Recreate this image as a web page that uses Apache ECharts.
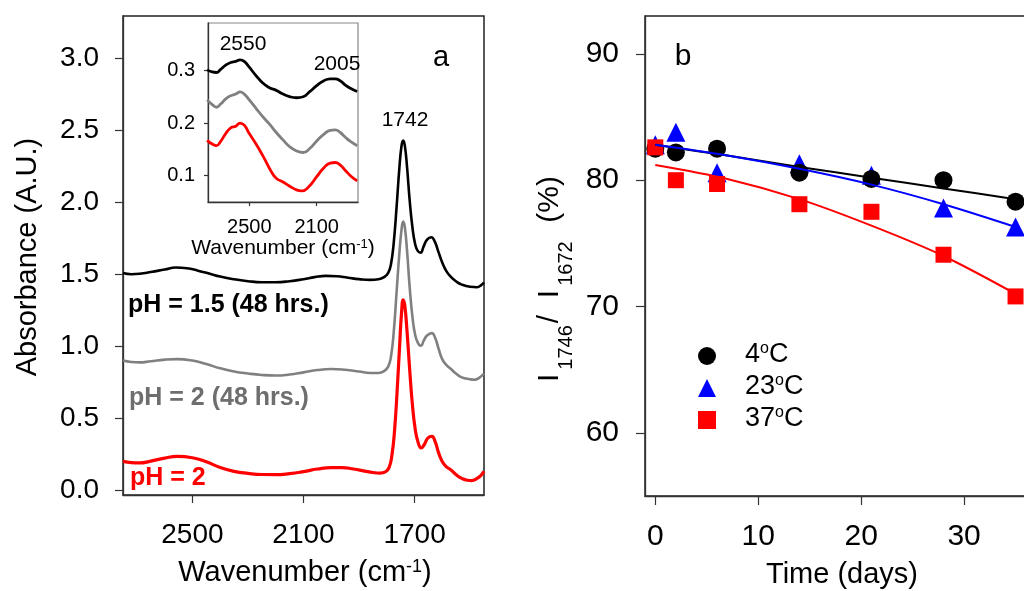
<!DOCTYPE html>
<html>
<head>
<meta charset="utf-8">
<script src="https://cdn.jsdelivr.net/npm/echarts@6/dist/echarts.min.js"></script>
<style>
html,body{margin:0;padding:0;background:#fff;}
#chart{width:1024px;height:591px;}
</style>
</head>
<body>
<div id="chart"></div>
<script>
// ---------- Panel a: main spectra [wavenumber, absorbance] ----------
var specPH15 = [[2750,1.508],[2720,1.500],[2690,1.503],[2650,1.515],[2600,1.533],[2560,1.547],[2520,1.542],[2480,1.525],[2440,1.505],[2400,1.484],[2350,1.465],[2300,1.452],[2250,1.445],[2200,1.445],[2150,1.452],[2100,1.466],[2060,1.480],[2020,1.489],[1980,1.486],[1940,1.476],[1900,1.466],[1860,1.461],[1830,1.465],[1810,1.480],[1795,1.510],[1785,1.570],[1775,1.720],[1765,1.960],[1755,2.230],[1747,2.390],[1741,2.426],[1735,2.390],[1727,2.240],[1718,2.020],[1708,1.830],[1698,1.710],[1688,1.660],[1678,1.650],[1668,1.690],[1655,1.740],[1640,1.757],[1628,1.730],[1615,1.660],[1600,1.580],[1585,1.520],[1570,1.484],[1550,1.450],[1530,1.428],[1500,1.413],[1475,1.410],[1460,1.425],[1450,1.443]];
var specPH2_48 = [[2750,0.902],[2720,0.892],[2690,0.889],[2650,0.897],[2600,0.908],[2555,0.912],[2500,0.902],[2450,0.878],[2400,0.848],[2350,0.826],[2300,0.812],[2250,0.802],[2200,0.798],[2150,0.805],[2100,0.820],[2050,0.836],[2000,0.843],[1950,0.838],[1900,0.826],[1860,0.816],[1830,0.816],[1810,0.828],[1795,0.860],[1785,0.930],[1775,1.100],[1765,1.370],[1755,1.640],[1747,1.810],[1741,1.865],[1735,1.825],[1727,1.660],[1718,1.420],[1708,1.210],[1698,1.080],[1688,1.025],[1677,1.004],[1667,1.040],[1655,1.075],[1638,1.092],[1626,1.060],[1613,0.980],[1600,0.910],[1585,0.870],[1570,0.845],[1550,0.810],[1530,0.785],[1500,0.772],[1485,0.769],[1470,0.778],[1450,0.812]];
var specPH2 = [[2750,0.203],[2720,0.194],[2690,0.192],[2650,0.205],[2600,0.226],[2555,0.238],[2500,0.228],[2450,0.200],[2400,0.160],[2350,0.134],[2300,0.120],[2250,0.112],[2200,0.111],[2150,0.118],[2100,0.132],[2050,0.150],[2000,0.160],[1960,0.160],[1920,0.150],[1880,0.136],[1850,0.126],[1825,0.122],[1805,0.130],[1792,0.160],[1782,0.240],[1772,0.420],[1762,0.720],[1754,1.000],[1747,1.230],[1741,1.323],[1735,1.280],[1727,1.100],[1718,0.850],[1708,0.600],[1698,0.430],[1688,0.340],[1676,0.296],[1665,0.320],[1652,0.365],[1638,0.376],[1626,0.340],[1613,0.260],[1600,0.200],[1585,0.165],[1570,0.145],[1550,0.110],[1530,0.085],[1510,0.072],[1495,0.070],[1475,0.085],[1460,0.108],[1450,0.134]];

// ---------- Panel a inset ----------
var insetPH15 = [[2750,0.301],[2720,0.297],[2695,0.296],[2670,0.302],[2640,0.310],[2610,0.315],[2580,0.317],[2555,0.320],[2530,0.317],[2500,0.306],[2460,0.290],[2420,0.276],[2380,0.267],[2340,0.262],[2300,0.255],[2260,0.250],[2220,0.248],[2180,0.250],[2140,0.260],[2100,0.271],[2060,0.280],[2020,0.284],[1990,0.284],[1960,0.280],[1930,0.272],[1900,0.266],[1860,0.260]];
var insetPH2_48 = [[2750,0.244],[2720,0.235],[2695,0.230],[2670,0.236],[2640,0.246],[2610,0.252],[2580,0.255],[2555,0.259],[2530,0.255],[2500,0.244],[2460,0.228],[2420,0.212],[2380,0.198],[2340,0.182],[2300,0.168],[2260,0.155],[2220,0.147],[2180,0.144],[2140,0.152],[2100,0.166],[2060,0.178],[2020,0.186],[1990,0.187],[1960,0.182],[1930,0.173],[1900,0.165],[1860,0.157]];
var insetPH2 = [[2750,0.167],[2720,0.160],[2695,0.157],[2670,0.165],[2640,0.180],[2610,0.191],[2580,0.194],[2555,0.200],[2530,0.196],[2500,0.180],[2460,0.160],[2420,0.138],[2400,0.126],[2370,0.108],[2340,0.095],[2300,0.088],[2260,0.080],[2220,0.073],[2190,0.071],[2150,0.078],[2100,0.098],[2060,0.114],[2020,0.124],[1990,0.125],[1960,0.120],[1930,0.110],[1900,0.100],[1860,0.090]];

var mainXTicks = [2500, 2100, 1700];
var mainYTicks = [0, 0.5, 1.0, 1.5, 2.0, 2.5, 3.0];
var insetXTicks = [2500, 2100];
var insetYTicks = [0.1, 0.2, 0.3];

// ---------- Panel b ----------
var days = [0, 2, 6, 14, 21, 28, 35];
var ratio4C = [82.5, 82.2, 82.5, 80.6, 80.1, 80.0, 78.3];
var ratio23C = [82.8, 83.8, 80.6, 81.3, 80.4, 77.8, 76.3];
var ratio37C = [82.6, 80.0, 79.7, 78.1, 77.5, 74.1, 70.8];
var fitDays = [0, 7, 14, 21, 28, 35];
var fit4C = [82.8, 81.95, 81.05, 80.2, 79.35, 78.5];
var fit23C = [82.8, 81.95, 80.9, 79.65, 78.1, 76.3];
var fit37C = [81.2, 80.1, 78.5, 76.4, 74.0, 71.0];
var timeTicks = [0, 10, 20, 30];
var ratioTicks = [60, 70, 80, 90];
var legendNames = ['4°C', '23°C', '37°C'];

var FONT = '"Liberation Sans", Arial, Helvetica, sans-serif';

function pairs(xs, ys) { return xs.map(function (x, i) { return [x, ys[i]]; }); }

function axisCommon(ticks, len, fs, margin, fmt) {
  return {
    axisLine: { show: true, onZero: false, lineStyle: { color: '#333', width: 1.3 } },
    axisTick: { show: true, length: len, customValues: ticks, lineStyle: { color: '#333', width: 1.2 } },
    axisLabel: { customValues: ticks, fontSize: fs, margin: margin, color: '#000', fontFamily: FONT, formatter: fmt, hideOverlap: false },
    splitLine: { show: false }
  };
}
function mk(base, extra) { for (var k in extra) base[k] = extra[k]; return base; }

var chart = echarts.init(document.getElementById('chart'), null, { renderer: 'canvas' });

var supRich = {
  m: { fontSize: 27, lineHeight: 30, verticalAlign: 'top', fontFamily: FONT, color: '#000' },
  s: { fontSize: 16, lineHeight: 16, verticalAlign: 'top', fontFamily: FONT, color: '#000' }
};

var option = {
  animation: false,
  backgroundColor: '#fff',
  textStyle: { fontFamily: FONT },
  grid: [
    { left: 123, top: 16, width: 361, height: 479, show: true, borderColor: '#222', borderWidth: 1.5, backgroundColor: 'transparent', outerBoundsMode: 'none', containLabel: false },
    { left: 208, top: 23, width: 150, height: 179, show: true, borderColor: '#888', borderWidth: 1.2, backgroundColor: '#fff', outerBoundsMode: 'none', containLabel: false },
    { left: 645, top: 16, width: 422, height: 480, show: true, borderColor: '#222', borderWidth: 1.5, backgroundColor: 'transparent', outerBoundsMode: 'none', containLabel: false }
  ],
  xAxis: [
    mk(axisCommon(mainXTicks, 8, 28, 26, function (v) { return String(v); }), { gridIndex: 0, type: 'value', min: 1450, max: 2750, inverse: true }),
    mk(axisCommon(insetXTicks, 4, 20, 15, function (v) { return String(v); }), { gridIndex: 1, type: 'value', min: 1855, max: 2745, inverse: true }),
    mk(axisCommon(timeTicks, 9, 30, 26, function (v) { return String(v); }), { gridIndex: 2, type: 'value', min: -1, max: 40 })
  ],
  yAxis: [
    mk(axisCommon(mainYTicks, 8, 28, 24, function (v) { return v.toFixed(1); }), { gridIndex: 0, type: 'value', min: -0.03, max: 3.29 }),
    mk(axisCommon(insetYTicks, 4, 20, 13, function (v) { return v.toFixed(1); }), { gridIndex: 1, type: 'value', min: 0.05, max: 0.39 }),
    mk(axisCommon(ratioTicks, 9, 30, 26, function (v) { return String(v); }), { gridIndex: 2, type: 'value', min: 55, max: 93 })
  ],
  legend: {
    left: 693, top: 336, orient: 'vertical', itemWidth: 18, itemHeight: 18, itemGap: 5,
    data: [
      { name: legendNames[0], icon: 'circle' },
      { name: legendNames[1], icon: 'triangle' },
      { name: legendNames[2], icon: 'rect' }
    ],
    formatter: function (n) { return '{m|' + n.replace('°C', '') + '}{s|o}{m|C}'; },
    textStyle: { fontSize: 27, padding: [0, 0, 0, 24], rich: supRich },
    selectedMode: false
  },
  series: [
    { type: 'line', xAxisIndex: 0, yAxisIndex: 0, data: specPH15, showSymbol: false, smooth: 0.5, lineStyle: { color: '#000', width: 2.6 }, clip: true },
    { type: 'line', xAxisIndex: 0, yAxisIndex: 0, data: specPH2_48, showSymbol: false, smooth: 0.5, lineStyle: { color: '#808080', width: 2.6 }, clip: true },
    { type: 'line', xAxisIndex: 0, yAxisIndex: 0, data: specPH2, showSymbol: false, smooth: 0.5, lineStyle: { color: '#ff0000', width: 3.2 }, clip: true },
    { type: 'line', xAxisIndex: 1, yAxisIndex: 1, data: insetPH15, showSymbol: false, smooth: 0.5, lineStyle: { color: '#000', width: 2.8 }, clip: true, z: 5 },
    { type: 'line', xAxisIndex: 1, yAxisIndex: 1, data: insetPH2_48, showSymbol: false, smooth: 0.5, lineStyle: { color: '#808080', width: 2.8 }, clip: true, z: 5 },
    { type: 'line', xAxisIndex: 1, yAxisIndex: 1, data: insetPH2, showSymbol: false, smooth: 0.5, lineStyle: { color: '#ff0000', width: 2.8 }, clip: true, z: 5 },
    { name: legendNames[1], type: 'scatter', xAxisIndex: 2, yAxisIndex: 2, data: pairs(days, ratio23C), symbol: 'triangle', symbolSize: 19, itemStyle: { color: '#0000ff', opacity: 1 }, z: 3, clip: false },
    { name: legendNames[0], type: 'scatter', xAxisIndex: 2, yAxisIndex: 2, data: pairs(days, ratio4C), symbol: 'circle', symbolSize: 18, itemStyle: { color: '#000', opacity: 1 }, z: 3, clip: false },
    { name: legendNames[2], type: 'scatter', xAxisIndex: 2, yAxisIndex: 2, data: pairs(days, ratio37C), symbol: 'rect', symbolSize: 16, itemStyle: { color: '#ff0000', opacity: 1 }, z: 3, clip: false },
    { type: 'line', xAxisIndex: 2, yAxisIndex: 2, data: pairs(fitDays, fit4C), showSymbol: false, smooth: 0.3, lineStyle: { color: '#000', width: 2 }, z: 4 },
    { type: 'line', xAxisIndex: 2, yAxisIndex: 2, data: pairs(fitDays, fit23C), showSymbol: false, smooth: 0.3, lineStyle: { color: '#0000ff', width: 2 }, z: 4 },
    { type: 'line', xAxisIndex: 2, yAxisIndex: 2, data: pairs(fitDays, fit37C), showSymbol: false, smooth: 0.3, lineStyle: { color: '#ff0000', width: 2 }, z: 4 }
  ],
  graphic: [
    { type: 'text', x: 28, y: 257, rotation: Math.PI / 2, style: { text: 'Absorbance (A.U.)', font: '29px ' + FONT, fill: '#000', align: 'center', verticalAlign: 'middle' } },
    { type: 'text', x: 305, y: 574, style: { text: '{m|Wavenumber (cm}{s|-1}{m|)}', align: 'center', verticalAlign: 'middle',
        rich: { m: { fontSize: 29, lineHeight: 32, verticalAlign: 'top', fontFamily: FONT, fill: '#000' }, s: { fontSize: 18, lineHeight: 18, verticalAlign: 'top', fontFamily: FONT, fill: '#000' } } } },
    { type: 'text', x: 283, y: 249, z: 10, style: { text: '{m|Wavenumber (cm}{s|-1}{m|)}', align: 'center', verticalAlign: 'middle',
        rich: { m: { fontSize: 21, lineHeight: 23, verticalAlign: 'top', fontFamily: FONT, fill: '#000' }, s: { fontSize: 13, lineHeight: 13, verticalAlign: 'top', fontFamily: FONT, fill: '#000' } } } },
    { type: 'text', x: 243, y: 44, z: 10, style: { text: '2550', font: '21px ' + FONT, fill: '#000', align: 'center', verticalAlign: 'middle' } },
    { type: 'text', x: 337, y: 64, z: 10, style: { text: '2005', font: '21px ' + FONT, fill: '#000', align: 'center', verticalAlign: 'middle' } },
    { type: 'text', x: 405, y: 120, style: { text: '1742', font: '21px ' + FONT, fill: '#000', align: 'center', verticalAlign: 'middle' } },
    { type: 'text', x: 441, y: 58, style: { text: 'a', font: '29px ' + FONT, fill: '#000', align: 'center', verticalAlign: 'middle' } },
    { type: 'text', x: 128, y: 305, style: { text: 'pH = 1.5 (48 hrs.)', font: 'bold 25px ' + FONT, fill: '#000', align: 'left', verticalAlign: 'middle' } },
    { type: 'text', x: 129, y: 398, style: { text: 'pH = 2 (48 hrs.)', font: 'bold 25px ' + FONT, fill: '#6e6e6e', align: 'left', verticalAlign: 'middle' } },
    { type: 'text', x: 130, y: 478, style: { text: 'pH = 2', font: 'bold 25px ' + FONT, fill: '#ff0000', align: 'left', verticalAlign: 'middle' } },
    { type: 'text', x: 683, y: 57, style: { text: 'b', font: '30px ' + FONT, fill: '#000', align: 'center', verticalAlign: 'middle' } },
    { type: 'text', x: 842, y: 575, style: { text: 'Time (days)', font: '29px ' + FONT, fill: '#000', align: 'center', verticalAlign: 'middle' } },
    { type: 'text', x: 551, y: 279, rotation: Math.PI / 2, style: { text: '{m|I}{b|1746}{m|/  I}{b|1672}{m|  (%)}', align: 'center', verticalAlign: 'middle',
        rich: { m: { fontSize: 30, lineHeight: 32, verticalAlign: 'top', fontFamily: FONT, fill: '#000' }, b: { fontSize: 20, lineHeight: 20, padding: [21, 2, 0, 4], verticalAlign: 'top', fontFamily: FONT, fill: '#000' } } } }
  ]
};
chart.setOption(option);
</script>
</body>
</html>
